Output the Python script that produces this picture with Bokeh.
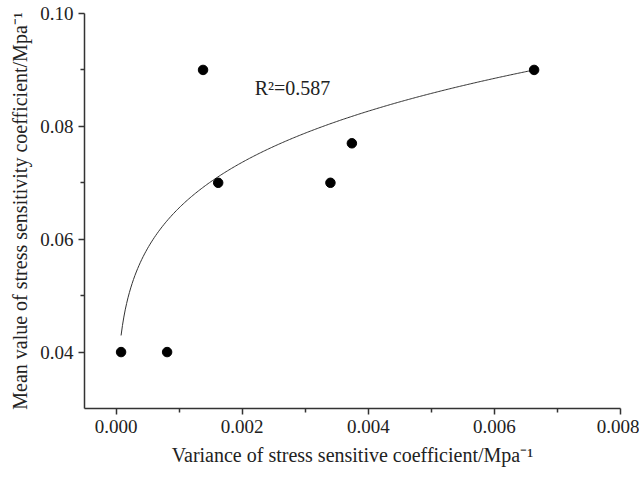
import numpy as np
from bokeh.plotting import figure
from bokeh.models import FixedTicker, NumeralTickFormatter, Range1d, Label
from bokeh.embed import file_html
from bokeh.resources import INLINE

# data
variance = [0.00008, 0.00081, 0.00138, 0.00162, 0.00340, 0.00374, 0.00663]
mean_val = [0.040, 0.040, 0.090, 0.070, 0.070, 0.077, 0.090]
x_ticks = [0.000, 0.002, 0.004, 0.006, 0.008]
x_minor = [0.001, 0.003, 0.005, 0.007]
y_ticks = [0.04, 0.06, 0.08, 0.10]
y_minor = [0.05, 0.07, 0.09]
# power-law fit y = c * x^p
fit_c = 0.2085
fit_p = 0.1675
r2_text = "R²=0.587"

FONT = "Liberation Serif"

p = figure(width=639, height=481, output_backend="svg", toolbar_location=None,
           x_range=Range1d(-0.0005, 0.008), y_range=Range1d(0.03, 0.10),
           min_border_left=84, min_border_right=19, min_border_top=13, min_border_bottom=73)
p.outline_line_color = None
p.xgrid.visible = False
p.ygrid.visible = False
p.background_fill_color = "white"
p.border_fill_color = "white"

xs = np.linspace(min(variance), max(variance), 300)
ys = fit_c * xs ** fit_p
p.line(xs, ys, line_color="#333333", line_width=1)
p.scatter(variance, mean_val, size=9.5, color="black")

p.add_layout(Label(x=0.00220, y=0.0848, text=r2_text, text_font=FONT,
                   text_font_size="20px", text_color="#222222"))

for ax, ticks, minor, fmt in ((p.xaxis[0], x_ticks, x_minor, "0.000"),
                              (p.yaxis[0], y_ticks, y_minor, "0.00")):
    ax.ticker = FixedTicker(ticks=ticks, minor_ticks=minor)
    ax.formatter = NumeralTickFormatter(format=fmt)
    ax.axis_line_color = "#333333"
    ax.axis_line_width = 1.5
    ax.major_tick_line_color = "#333333"
    ax.minor_tick_line_color = "#333333"
    ax.major_tick_line_width = 1.5
    ax.minor_tick_line_width = 1.5
    ax.major_tick_out = 6
    ax.major_tick_in = 0
    ax.minor_tick_out = 4
    ax.minor_tick_in = 0
    ax.major_label_text_font = FONT
    ax.major_label_text_font_size = "19px"
    ax.major_label_text_color = "#222222"
    ax.axis_label_text_font = FONT
    ax.axis_label_text_font_size = "20px"
    ax.axis_label_text_font_style = "normal"
    ax.axis_label_text_color = "#222222"

p.xaxis.axis_label = "Variance of stress sensitive coefficient/Mpa⁻¹"
p.yaxis.axis_label = "Mean value of stress sensitivity coefficient/Mpa⁻¹"
p.xaxis.major_label_standoff = 5
p.yaxis.major_label_standoff = 5
p.xaxis.axis_label_standoff = 8
p.yaxis.axis_label_standoff = 6

open("out.html", "w").write(file_html(p, INLINE))
